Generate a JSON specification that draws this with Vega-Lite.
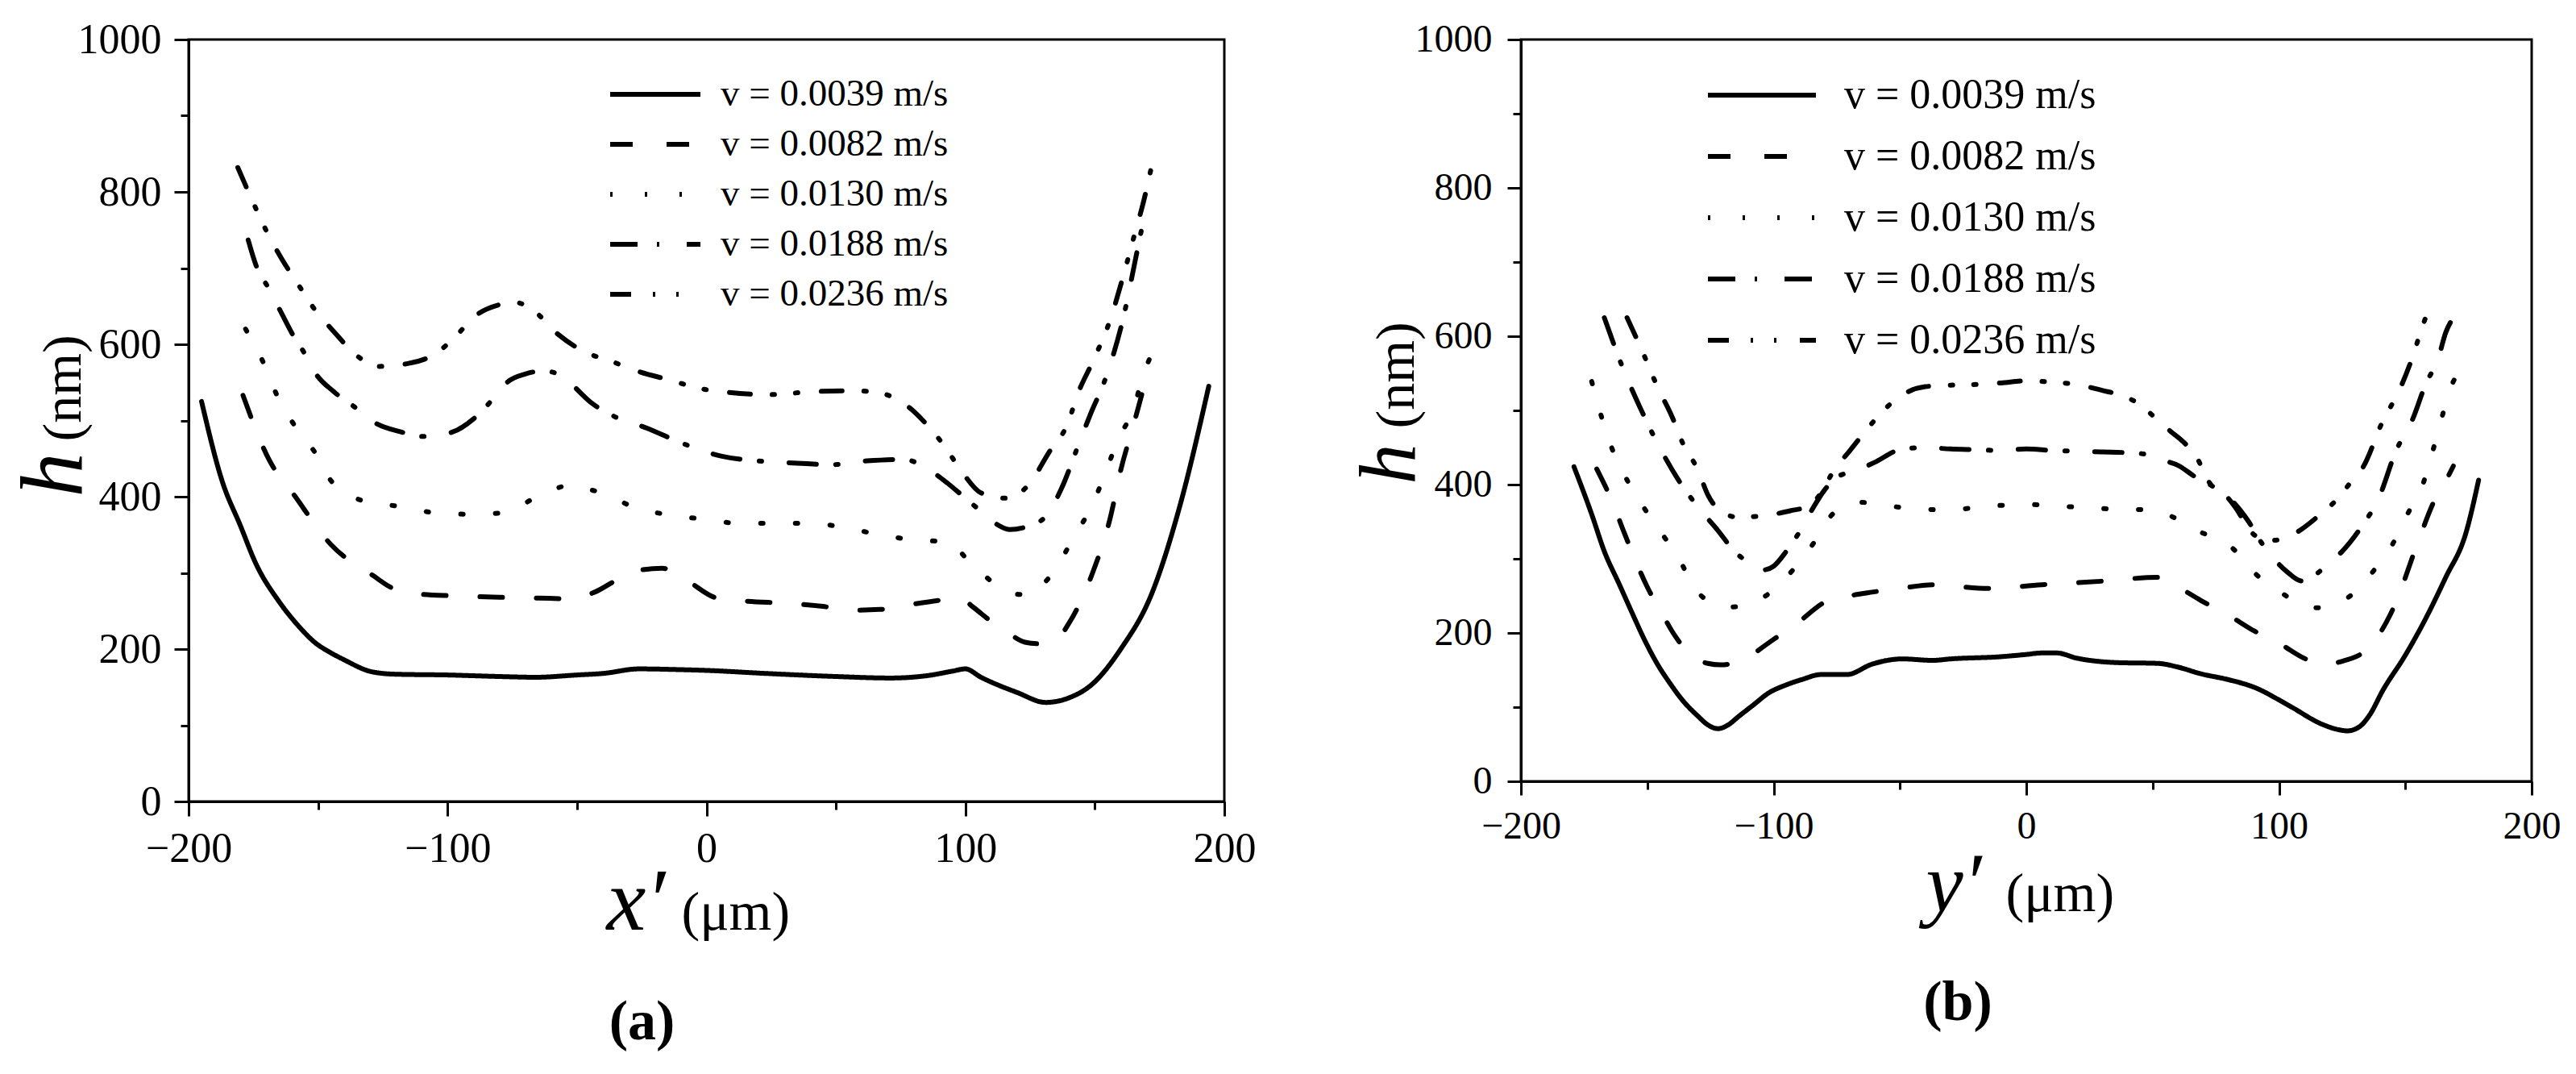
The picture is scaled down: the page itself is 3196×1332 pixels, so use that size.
{
  "$schema": "https://vega.github.io/schema/vega-lite/v6.json",
  "background": "white",
  "padding": {"left": 11, "top": 21, "right": 0, "bottom": 0},
  "spacing": 112,
  "config": {
    "view": {"stroke": "black", "strokeWidth": 3},
    "font": "Liberation Serif",
    "axis": {"labelFont": "Liberation Serif", "titleFont": "Liberation Serif", "labelColor": "black", "titleColor": "black", "domainColor": "black", "tickColor": "black", "domainWidth": 3, "tickWidth": 3, "grid": false, "labelFlush": false, "labelOverlap": false, "titleFontWeight": "normal"},
    "legend": {"labelFont": "Liberation Serif", "labelColor": "black", "labelLimit": 2000}
  },
  "datasets": {
    "d": [
      {"p":"a","s":"0.0039","x":-195,"h":525},{"p":"a","s":"0.0039","x":-187,"h":420},{"p":"a","s":"0.0039","x":-180,"h":362},{"p":"a","s":"0.0039","x":-174,"h":312},{"p":"a","s":"0.0039","x":-165,"h":262},{"p":"a","s":"0.0039","x":-158,"h":232},{"p":"a","s":"0.0039","x":-151,"h":208},{"p":"a","s":"0.0039","x":-145,"h":195},{"p":"a","s":"0.0039","x":-140,"h":186},{"p":"a","s":"0.0039","x":-129,"h":170},{"p":"a","s":"0.0039","x":-120,"h":167},{"p":"a","s":"0.0039","x":-100,"h":166},{"p":"a","s":"0.0039","x":-80,"h":164},{"p":"a","s":"0.0039","x":-66,"h":163},{"p":"a","s":"0.0039","x":-50,"h":166},{"p":"a","s":"0.0039","x":-40,"h":168},{"p":"a","s":"0.0039","x":-26,"h":174},{"p":"a","s":"0.0039","x":-10,"h":173},{"p":"a","s":"0.0039","x":0,"h":172},{"p":"a","s":"0.0039","x":23,"h":168},{"p":"a","s":"0.0039","x":50,"h":164},{"p":"a","s":"0.0039","x":71,"h":162},{"p":"a","s":"0.0039","x":85,"h":165},{"p":"a","s":"0.0039","x":95,"h":171},{"p":"a","s":"0.0039","x":100,"h":174},{"p":"a","s":"0.0039","x":106,"h":163},{"p":"a","s":"0.0039","x":120,"h":143},{"p":"a","s":"0.0039","x":131,"h":130},{"p":"a","s":"0.0039","x":140,"h":136},{"p":"a","s":"0.0039","x":149,"h":154},{"p":"a","s":"0.0039","x":160,"h":200},{"p":"a","s":"0.0039","x":172,"h":273},{"p":"a","s":"0.0039","x":183,"h":390},{"p":"a","s":"0.0039","x":194,"h":545},

      {"p":"a","s":"0.0082","x":-179,"h":533},{"p":"a","s":"0.0082","x":-169,"h":449},{"p":"a","s":"0.0082","x":-159,"h":401},{"p":"a","s":"0.0082","x":-145,"h":337},{"p":"a","s":"0.0082","x":-129,"h":297},{"p":"a","s":"0.0082","x":-120,"h":278},{"p":"a","s":"0.0082","x":-110,"h":272},{"p":"a","s":"0.0082","x":-98,"h":270},{"p":"a","s":"0.0082","x":-80,"h":268},{"p":"a","s":"0.0082","x":-65,"h":267},{"p":"a","s":"0.0082","x":-53,"h":266},{"p":"a","s":"0.0082","x":-43,"h":275},{"p":"a","s":"0.0082","x":-35,"h":290},{"p":"a","s":"0.0082","x":-25,"h":304},{"p":"a","s":"0.0082","x":-17,"h":306},{"p":"a","s":"0.0082","x":-8,"h":291},{"p":"a","s":"0.0082","x":4,"h":267},{"p":"a","s":"0.0082","x":15,"h":263},{"p":"a","s":"0.0082","x":31,"h":260},{"p":"a","s":"0.0082","x":45,"h":256},{"p":"a","s":"0.0082","x":56,"h":251},{"p":"a","s":"0.0082","x":67,"h":252},{"p":"a","s":"0.0082","x":78,"h":258},{"p":"a","s":"0.0082","x":90,"h":264},{"p":"a","s":"0.0082","x":98,"h":267},{"p":"a","s":"0.0082","x":103,"h":255},{"p":"a","s":"0.0082","x":110,"h":236},{"p":"a","s":"0.0082","x":117,"h":220},{"p":"a","s":"0.0082","x":123,"h":209},{"p":"a","s":"0.0082","x":128,"h":207},{"p":"a","s":"0.0082","x":135,"h":212},{"p":"a","s":"0.0082","x":140,"h":234},{"p":"a","s":"0.0082","x":149,"h":299},{"p":"a","s":"0.0082","x":156,"h":373},{"p":"a","s":"0.0082","x":160,"h":435},{"p":"a","s":"0.0082","x":165,"h":495},{"p":"a","s":"0.0082","x":169,"h":545},

      {"p":"a","s":"0.0130","x":-178,"h":620},{"p":"a","s":"0.0130","x":-171,"h":575},{"p":"a","s":"0.0130","x":-166,"h":534},{"p":"a","s":"0.0130","x":-159,"h":493},{"p":"a","s":"0.0130","x":-151,"h":457},{"p":"a","s":"0.0130","x":-145,"h":421},{"p":"a","s":"0.0130","x":-132,"h":394},{"p":"a","s":"0.0130","x":-118,"h":387},{"p":"a","s":"0.0130","x":-105,"h":379},{"p":"a","s":"0.0130","x":-91,"h":377},{"p":"a","s":"0.0130","x":-78,"h":379},{"p":"a","s":"0.0130","x":-66,"h":399},{"p":"a","s":"0.0130","x":-57,"h":412},{"p":"a","s":"0.0130","x":-52,"h":416},{"p":"a","s":"0.0130","x":-46,"h":410},{"p":"a","s":"0.0130","x":-40,"h":405},{"p":"a","s":"0.0130","x":-28,"h":386},{"p":"a","s":"0.0130","x":-14,"h":376},{"p":"a","s":"0.0130","x":0,"h":370},{"p":"a","s":"0.0130","x":13,"h":365},{"p":"a","s":"0.0130","x":27,"h":365},{"p":"a","s":"0.0130","x":40,"h":365},{"p":"a","s":"0.0130","x":54,"h":359},{"p":"a","s":"0.0130","x":67,"h":350},{"p":"a","s":"0.0130","x":81,"h":343},{"p":"a","s":"0.0130","x":93,"h":341},{"p":"a","s":"0.0130","x":102,"h":313},{"p":"a","s":"0.0130","x":113,"h":282},{"p":"a","s":"0.0130","x":120,"h":272},{"p":"a","s":"0.0130","x":125,"h":271},{"p":"a","s":"0.0130","x":130,"h":285},{"p":"a","s":"0.0130","x":135,"h":306},{"p":"a","s":"0.0130","x":142,"h":348},{"p":"a","s":"0.0130","x":149,"h":389},{"p":"a","s":"0.0130","x":154,"h":431},{"p":"a","s":"0.0130","x":159,"h":475},{"p":"a","s":"0.0130","x":165,"h":516},{"p":"a","s":"0.0130","x":169,"h":563},{"p":"a","s":"0.0130","x":171,"h":580},

      {"p":"a","s":"0.0188","x":-177,"h":737},{"p":"a","s":"0.0188","x":-174,"h":704},{"p":"a","s":"0.0188","x":-169,"h":673},{"p":"a","s":"0.0188","x":-164,"h":640},{"p":"a","s":"0.0188","x":-159,"h":608},{"p":"a","s":"0.0188","x":-155,"h":587},{"p":"a","s":"0.0188","x":-151,"h":562},{"p":"a","s":"0.0188","x":-144,"h":538},{"p":"a","s":"0.0188","x":-136,"h":518},{"p":"a","s":"0.0188","x":-128,"h":497},{"p":"a","s":"0.0188","x":-118,"h":485},{"p":"a","s":"0.0188","x":-109,"h":479},{"p":"a","s":"0.0188","x":-98,"h":485},{"p":"a","s":"0.0188","x":-90,"h":502},{"p":"a","s":"0.0188","x":-82,"h":530},{"p":"a","s":"0.0188","x":-77,"h":550},{"p":"a","s":"0.0188","x":-70,"h":561},{"p":"a","s":"0.0188","x":-63,"h":565},{"p":"a","s":"0.0188","x":-58,"h":562},{"p":"a","s":"0.0188","x":-53,"h":550},{"p":"a","s":"0.0188","x":-44,"h":522},{"p":"a","s":"0.0188","x":-36,"h":506},{"p":"a","s":"0.0188","x":-23,"h":490},{"p":"a","s":"0.0188","x":-10,"h":471},{"p":"a","s":"0.0188","x":6,"h":453},{"p":"a","s":"0.0188","x":20,"h":447},{"p":"a","s":"0.0188","x":35,"h":444},{"p":"a","s":"0.0188","x":48,"h":442},{"p":"a","s":"0.0188","x":62,"h":447},{"p":"a","s":"0.0188","x":76,"h":449},{"p":"a","s":"0.0188","x":87,"h":433},{"p":"a","s":"0.0188","x":93,"h":418},{"p":"a","s":"0.0188","x":100,"h":398},{"p":"a","s":"0.0188","x":107,"h":378},{"p":"a","s":"0.0188","x":112,"h":364},{"p":"a","s":"0.0188","x":117,"h":357},{"p":"a","s":"0.0188","x":124,"h":361},{"p":"a","s":"0.0188","x":131,"h":374},{"p":"a","s":"0.0188","x":137,"h":410},{"p":"a","s":"0.0188","x":144,"h":471},{"p":"a","s":"0.0188","x":149,"h":514},{"p":"a","s":"0.0188","x":153,"h":545},{"p":"a","s":"0.0188","x":157,"h":585},{"p":"a","s":"0.0188","x":161,"h":635},{"p":"a","s":"0.0188","x":165,"h":700},{"p":"a","s":"0.0188","x":168,"h":750},{"p":"a","s":"0.0188","x":170,"h":780},

      {"p":"a","s":"0.0236","x":-181,"h":832},{"p":"a","s":"0.0236","x":-174,"h":778},{"p":"a","s":"0.0236","x":-170,"h":749},{"p":"a","s":"0.0236","x":-164,"h":712},{"p":"a","s":"0.0236","x":-157,"h":675},{"p":"a","s":"0.0236","x":-152,"h":649},{"p":"a","s":"0.0236","x":-144,"h":617},{"p":"a","s":"0.0236","x":-135,"h":585},{"p":"a","s":"0.0236","x":-127,"h":571},{"p":"a","s":"0.0236","x":-115,"h":575},{"p":"a","s":"0.0236","x":-104,"h":589},{"p":"a","s":"0.0236","x":-97,"h":610},{"p":"a","s":"0.0236","x":-89,"h":638},{"p":"a","s":"0.0236","x":-80,"h":652},{"p":"a","s":"0.0236","x":-74,"h":655},{"p":"a","s":"0.0236","x":-67,"h":645},{"p":"a","s":"0.0236","x":-58,"h":615},{"p":"a","s":"0.0236","x":-47,"h":590},{"p":"a","s":"0.0236","x":-37,"h":578},{"p":"a","s":"0.0236","x":-26,"h":564},{"p":"a","s":"0.0236","x":-13,"h":552},{"p":"a","s":"0.0236","x":-4,"h":543},{"p":"a","s":"0.0236","x":8,"h":537},{"p":"a","s":"0.0236","x":24,"h":534},{"p":"a","s":"0.0236","x":42,"h":538},{"p":"a","s":"0.0236","x":57,"h":539},{"p":"a","s":"0.0236","x":67,"h":536},{"p":"a","s":"0.0236","x":76,"h":523},{"p":"a","s":"0.0236","x":85,"h":495},{"p":"a","s":"0.0236","x":92,"h":466},{"p":"a","s":"0.0236","x":99,"h":431},{"p":"a","s":"0.0236","x":106,"h":405},{"p":"a","s":"0.0236","x":116,"h":398},{"p":"a","s":"0.0236","x":124,"h":414},{"p":"a","s":"0.0236","x":133,"h":462},{"p":"a","s":"0.0236","x":139,"h":492},{"p":"a","s":"0.0236","x":144,"h":540},{"p":"a","s":"0.0236","x":149,"h":576},{"p":"a","s":"0.0236","x":156,"h":633},{"p":"a","s":"0.0236","x":161,"h":690},{"p":"a","s":"0.0236","x":165,"h":740},{"p":"a","s":"0.0236","x":169,"h":790},{"p":"a","s":"0.0236","x":172,"h":835},

      {"p":"b","s":"0.0039","x":-179,"h":424},{"p":"b","s":"0.0039","x":-172,"h":360},{"p":"b","s":"0.0039","x":-167,"h":310},{"p":"b","s":"0.0039","x":-161,"h":265},{"p":"b","s":"0.0039","x":-156,"h":227},{"p":"b","s":"0.0039","x":-151,"h":190},{"p":"b","s":"0.0039","x":-146,"h":158},{"p":"b","s":"0.0039","x":-141,"h":132},{"p":"b","s":"0.0039","x":-136,"h":109},{"p":"b","s":"0.0039","x":-130,"h":88},{"p":"b","s":"0.0039","x":-126,"h":76},{"p":"b","s":"0.0039","x":-122,"h":71},{"p":"b","s":"0.0039","x":-118,"h":76},{"p":"b","s":"0.0039","x":-114,"h":87},{"p":"b","s":"0.0039","x":-108,"h":103},{"p":"b","s":"0.0039","x":-102,"h":119},{"p":"b","s":"0.0039","x":-95,"h":130},{"p":"b","s":"0.0039","x":-89,"h":137},{"p":"b","s":"0.0039","x":-81,"h":144},{"p":"b","s":"0.0039","x":-71,"h":144},{"p":"b","s":"0.0039","x":-61,"h":158},{"p":"b","s":"0.0039","x":-49,"h":165},{"p":"b","s":"0.0039","x":-37,"h":163},{"p":"b","s":"0.0039","x":-30,"h":165},{"p":"b","s":"0.0039","x":-10,"h":168},{"p":"b","s":"0.0039","x":0,"h":171},{"p":"b","s":"0.0039","x":6,"h":173},{"p":"b","s":"0.0039","x":12,"h":173},{"p":"b","s":"0.0039","x":20,"h":166},{"p":"b","s":"0.0039","x":36,"h":160},{"p":"b","s":"0.0039","x":52,"h":159},{"p":"b","s":"0.0039","x":60,"h":154},{"p":"b","s":"0.0039","x":69,"h":145},{"p":"b","s":"0.0039","x":80,"h":137},{"p":"b","s":"0.0039","x":90,"h":127},{"p":"b","s":"0.0039","x":104,"h":102},{"p":"b","s":"0.0039","x":117,"h":77},{"p":"b","s":"0.0039","x":123,"h":70},{"p":"b","s":"0.0039","x":127,"h":68},{"p":"b","s":"0.0039","x":132,"h":74},{"p":"b","s":"0.0039","x":136,"h":90},{"p":"b","s":"0.0039","x":141,"h":122},{"p":"b","s":"0.0039","x":150,"h":170},{"p":"b","s":"0.0039","x":158,"h":219},{"p":"b","s":"0.0039","x":166,"h":275},{"p":"b","s":"0.0039","x":174,"h":335},{"p":"b","s":"0.0039","x":179,"h":406},

      {"p":"b","s":"0.0082","x":-170,"h":421},{"p":"b","s":"0.0082","x":-164,"h":378},{"p":"b","s":"0.0082","x":-159,"h":334},{"p":"b","s":"0.0082","x":-150,"h":262},{"p":"b","s":"0.0082","x":-144,"h":225},{"p":"b","s":"0.0082","x":-139,"h":196},{"p":"b","s":"0.0082","x":-132,"h":168},{"p":"b","s":"0.0082","x":-126,"h":159},{"p":"b","s":"0.0082","x":-121,"h":157},{"p":"b","s":"0.0082","x":-112,"h":164},{"p":"b","s":"0.0082","x":-101,"h":189},{"p":"b","s":"0.0082","x":-90,"h":215},{"p":"b","s":"0.0082","x":-80,"h":241},{"p":"b","s":"0.0082","x":-70,"h":250},{"p":"b","s":"0.0082","x":-61,"h":255},{"p":"b","s":"0.0082","x":-50,"h":260},{"p":"b","s":"0.0082","x":-37,"h":265},{"p":"b","s":"0.0082","x":-15,"h":260},{"p":"b","s":"0.0082","x":6,"h":265},{"p":"b","s":"0.0082","x":31,"h":270},{"p":"b","s":"0.0082","x":52,"h":275},{"p":"b","s":"0.0082","x":60,"h":262},{"p":"b","s":"0.0082","x":69,"h":244},{"p":"b","s":"0.0082","x":80,"h":224},{"p":"b","s":"0.0082","x":90,"h":203},{"p":"b","s":"0.0082","x":100,"h":186},{"p":"b","s":"0.0082","x":112,"h":163},{"p":"b","s":"0.0082","x":119,"h":158},{"p":"b","s":"0.0082","x":126,"h":163},{"p":"b","s":"0.0082","x":133,"h":173},{"p":"b","s":"0.0082","x":140,"h":200},{"p":"b","s":"0.0082","x":146,"h":239},{"p":"b","s":"0.0082","x":154,"h":313},{"p":"b","s":"0.0082","x":162,"h":382},{"p":"b","s":"0.0082","x":166,"h":405},{"p":"b","s":"0.0082","x":169,"h":425},

      {"p":"b","s":"0.0130","x":-172,"h":539},{"p":"b","s":"0.0130","x":-168,"h":490},{"p":"b","s":"0.0130","x":-164,"h":449},{"p":"b","s":"0.0130","x":-157,"h":400},{"p":"b","s":"0.0130","x":-148,"h":352},{"p":"b","s":"0.0130","x":-138,"h":303},{"p":"b","s":"0.0130","x":-130,"h":255},{"p":"b","s":"0.0130","x":-124,"h":240},{"p":"b","s":"0.0130","x":-117,"h":235},{"p":"b","s":"0.0130","x":-110,"h":238},{"p":"b","s":"0.0130","x":-104,"h":248},{"p":"b","s":"0.0130","x":-95,"h":275},{"p":"b","s":"0.0130","x":-85,"h":317},{"p":"b","s":"0.0130","x":-77,"h":359},{"p":"b","s":"0.0130","x":-70,"h":372},{"p":"b","s":"0.0130","x":-65,"h":376},{"p":"b","s":"0.0130","x":-49,"h":369},{"p":"b","s":"0.0130","x":-32,"h":366},{"p":"b","s":"0.0130","x":-10,"h":372},{"p":"b","s":"0.0130","x":3,"h":373},{"p":"b","s":"0.0130","x":18,"h":370},{"p":"b","s":"0.0130","x":35,"h":367},{"p":"b","s":"0.0130","x":49,"h":366},{"p":"b","s":"0.0130","x":57,"h":358},{"p":"b","s":"0.0130","x":65,"h":342},{"p":"b","s":"0.0130","x":69,"h":336},{"p":"b","s":"0.0130","x":82,"h":313},{"p":"b","s":"0.0130","x":90,"h":282},{"p":"b","s":"0.0130","x":101,"h":254},{"p":"b","s":"0.0130","x":108,"h":240},{"p":"b","s":"0.0130","x":115,"h":234},{"p":"b","s":"0.0130","x":121,"h":238},{"p":"b","s":"0.0130","x":127,"h":247},{"p":"b","s":"0.0130","x":137,"h":282},{"p":"b","s":"0.0130","x":145,"h":320},{"p":"b","s":"0.0130","x":151,"h":361},{"p":"b","s":"0.0130","x":157,"h":401},{"p":"b","s":"0.0130","x":161,"h":447},{"p":"b","s":"0.0130","x":165,"h":497},{"p":"b","s":"0.0130","x":169,"h":539},{"p":"b","s":"0.0130","x":171,"h":550},

      {"p":"b","s":"0.0188","x":-167,"h":625},{"p":"b","s":"0.0188","x":-160,"h":560},{"p":"b","s":"0.0188","x":-153,"h":505},{"p":"b","s":"0.0188","x":-146,"h":456},{"p":"b","s":"0.0188","x":-138,"h":408},{"p":"b","s":"0.0188","x":-130,"h":370},{"p":"b","s":"0.0188","x":-122,"h":338},{"p":"b","s":"0.0188","x":-116,"h":312},{"p":"b","s":"0.0188","x":-110,"h":295},{"p":"b","s":"0.0188","x":-104,"h":285},{"p":"b","s":"0.0188","x":-100,"h":290},{"p":"b","s":"0.0188","x":-95,"h":310},{"p":"b","s":"0.0188","x":-90,"h":335},{"p":"b","s":"0.0188","x":-85,"h":365},{"p":"b","s":"0.0188","x":-80,"h":392},{"p":"b","s":"0.0188","x":-75,"h":410},{"p":"b","s":"0.0188","x":-68,"h":418},{"p":"b","s":"0.0188","x":-60,"h":430},{"p":"b","s":"0.0188","x":-50,"h":447},{"p":"b","s":"0.0188","x":-40,"h":450},{"p":"b","s":"0.0188","x":-30,"h":448},{"p":"b","s":"0.0188","x":-20,"h":447},{"p":"b","s":"0.0188","x":-10,"h":446},{"p":"b","s":"0.0188","x":0,"h":448},{"p":"b","s":"0.0188","x":10,"h":446},{"p":"b","s":"0.0188","x":20,"h":445},{"p":"b","s":"0.0188","x":30,"h":444},{"p":"b","s":"0.0188","x":40,"h":443},{"p":"b","s":"0.0188","x":47,"h":441},{"p":"b","s":"0.0188","x":55,"h":432},{"p":"b","s":"0.0188","x":60,"h":426},{"p":"b","s":"0.0188","x":67,"h":410},{"p":"b","s":"0.0188","x":75,"h":395},{"p":"b","s":"0.0188","x":82,"h":376},{"p":"b","s":"0.0188","x":88,"h":350},{"p":"b","s":"0.0188","x":93,"h":322},{"p":"b","s":"0.0188","x":98,"h":300},{"p":"b","s":"0.0188","x":103,"h":283},{"p":"b","s":"0.0188","x":109,"h":270},{"p":"b","s":"0.0188","x":115,"h":280},{"p":"b","s":"0.0188","x":120,"h":295},{"p":"b","s":"0.0188","x":125,"h":310},{"p":"b","s":"0.0188","x":132,"h":340},{"p":"b","s":"0.0188","x":140,"h":386},{"p":"b","s":"0.0188","x":146,"h":443},{"p":"b","s":"0.0188","x":153,"h":489},{"p":"b","s":"0.0188","x":158,"h":535},{"p":"b","s":"0.0188","x":163,"h":570},{"p":"b","s":"0.0188","x":166,"h":605},{"p":"b","s":"0.0188","x":169,"h":625},

      {"p":"b","s":"0.0236","x":-158,"h":625},{"p":"b","s":"0.0236","x":-152,"h":580},{"p":"b","s":"0.0236","x":-146,"h":532},{"p":"b","s":"0.0236","x":-140,"h":490},{"p":"b","s":"0.0236","x":-136,"h":456},{"p":"b","s":"0.0236","x":-130,"h":420},{"p":"b","s":"0.0236","x":-126,"h":386},{"p":"b","s":"0.0236","x":-120,"h":362},{"p":"b","s":"0.0236","x":-114,"h":356},{"p":"b","s":"0.0236","x":-107,"h":357},{"p":"b","s":"0.0236","x":-100,"h":360},{"p":"b","s":"0.0236","x":-93,"h":365},{"p":"b","s":"0.0236","x":-87,"h":370},{"p":"b","s":"0.0236","x":-82,"h":385},{"p":"b","s":"0.0236","x":-76,"h":420},{"p":"b","s":"0.0236","x":-70,"h":445},{"p":"b","s":"0.0236","x":-61,"h":483},{"p":"b","s":"0.0236","x":-55,"h":505},{"p":"b","s":"0.0236","x":-49,"h":521},{"p":"b","s":"0.0236","x":-40,"h":532},{"p":"b","s":"0.0236","x":-30,"h":534},{"p":"b","s":"0.0236","x":-20,"h":535},{"p":"b","s":"0.0236","x":-10,"h":537},{"p":"b","s":"0.0236","x":0,"h":540},{"p":"b","s":"0.0236","x":10,"h":538},{"p":"b","s":"0.0236","x":20,"h":535},{"p":"b","s":"0.0236","x":30,"h":527},{"p":"b","s":"0.0236","x":37,"h":521},{"p":"b","s":"0.0236","x":44,"h":510},{"p":"b","s":"0.0236","x":52,"h":487},{"p":"b","s":"0.0236","x":57,"h":472},{"p":"b","s":"0.0236","x":62,"h":458},{"p":"b","s":"0.0236","x":67,"h":439},{"p":"b","s":"0.0236","x":73,"h":400},{"p":"b","s":"0.0236","x":79,"h":385},{"p":"b","s":"0.0236","x":83,"h":368},{"p":"b","s":"0.0236","x":89,"h":336},{"p":"b","s":"0.0236","x":94,"h":326},{"p":"b","s":"0.0236","x":98,"h":325},{"p":"b","s":"0.0236","x":104,"h":330},{"p":"b","s":"0.0236","x":109,"h":340},{"p":"b","s":"0.0236","x":115,"h":356},{"p":"b","s":"0.0236","x":124,"h":384},{"p":"b","s":"0.0236","x":129,"h":406},{"p":"b","s":"0.0236","x":133,"h":422},{"p":"b","s":"0.0236","x":141,"h":485},{"p":"b","s":"0.0236","x":148,"h":530},{"p":"b","s":"0.0236","x":152,"h":564},{"p":"b","s":"0.0236","x":156,"h":605},{"p":"b","s":"0.0236","x":158,"h":625}
    ]
  },
  "resolve": {"scale": {"strokeDash": "independent"}, "legend": {"strokeDash": "independent"}},
  "hconcat": [
    {
      "width": 1285,
      "height": 945,
      "data": {"name": "d"},
      "transform": [{"filter": "datum.p == 'a'"}],
      "title": {"text": "(a)", "orient": "bottom", "anchor": "middle", "dx": -80, "offset": 60, "fontSize": 70, "fontWeight": "bold", "font": "Liberation Serif", "color": "black"},
      "resolve": {"scale": {"x": "independent", "y": "independent"}, "axis": {"x": "independent", "y": "independent"}},
      "layer": [
        {
          "mark": {"type": "line", "color": "black", "strokeWidth": 6, "strokeCap": "round", "interpolate": "monotone"},
          "encoding": {
            "x": {"field": "x", "type": "quantitative", "scale": {"domain": [-200, 200], "nice": false, "zero": false},
                  "axis": {"orient": "bottom", "values": [-200, -100, 0, 100, 200], "format": "d", "tickSize": 18, "labelPadding": 15, "labelFont": "Liberation Serif", "labelFontSize": 52, "title": "x′", "titleFont": "Liberation Serif", "titleFontSize": 110, "titleFontStyle": "italic", "titleX": 518, "titleY": 158, "titleAlign": "left", "titleBaseline": "alphabetic"}},
            "y": {"field": "h", "type": "quantitative", "scale": {"domain": [0, 1000], "nice": false, "zero": false},
                  "axis": {"orient": "left", "values": [0, 200, 400, 600, 800, 1000], "format": "d", "tickSize": 18, "labelPadding": 16, "labelFont": "Liberation Serif", "labelFontSize": 52, "title": "h", "titleFont": "Liberation Serif", "titleFontSize": 110, "titleFontStyle": "italic", "titleX": -133, "titleY": 567, "titleAngle": 270, "titleAlign": "left", "titleBaseline": "alphabetic"}},
            "strokeDash": {"field": "s", "type": "nominal",
                  "scale": {"domain": ["0.0039", "0.0082", "0.0130", "0.0188", "0.0236"], "range": [[1, 0], [28, 42], [3, 40], [34, 24, 3, 34], [26, 27, 3, 26, 3, 29]]},
                  "legend": {"orient": "none", "legendX": 520, "legendY": 37, "title": null, "symbolType": "stroke", "symbolSize": 12544, "symbolStrokeWidth": 6, "symbolStrokeColor": "black", "labelFont": "Liberation Serif", "labelFontSize": 47, "labelOffset": 22, "labelLimit": 2000, "clipHeight": 62, "rowPadding": 0, "padding": 0, "labelExpr": "'v = ' + datum.label + ' m/s'"}}
          }
        },
        {
          "mark": {"type": "line", "opacity": 0},
          "encoding": {
            "x": {"field": "x", "type": "quantitative", "scale": {"domain": [-200, 200], "nice": false, "zero": false},
                  "axis": {"orient": "bottom", "values": [-150, -50, 50, 150], "tickSize": 10, "labels": false, "domain": false, "title": "(μm)", "titleFont": "Liberation Serif", "titleFontSize": 68, "titleFontStyle": "normal", "titleX": 611, "titleY": 158, "titleAlign": "left", "titleBaseline": "alphabetic"}},
            "y": {"field": "h", "type": "quantitative", "scale": {"domain": [0, 1000], "nice": false, "zero": false},
                  "axis": {"orient": "left", "values": [100, 300, 500, 700, 900], "tickSize": 10, "labels": false, "domain": false, "title": "(nm)", "titleFont": "Liberation Serif", "titleFontSize": 68, "titleFontStyle": "normal", "titleX": -135, "titleY": 498, "titleAngle": 270, "titleAlign": "left", "titleBaseline": "alphabetic"}},
            "detail": {"field": "s"}
          }
        }
      ]
    },
    {
      "width": 1254,
      "height": 920,
      "data": {"name": "d"},
      "transform": [{"filter": "datum.p == 'b'"}],
      "title": {"text": "(b)", "orient": "bottom", "anchor": "middle", "dx": -85, "offset": 60, "fontSize": 70, "fontWeight": "bold", "font": "Liberation Serif", "color": "black"},
      "resolve": {"scale": {"x": "independent", "y": "independent"}, "axis": {"x": "independent", "y": "independent"}},
      "layer": [
        {
          "mark": {"type": "line", "color": "black", "strokeWidth": 6, "strokeCap": "round", "interpolate": "monotone"},
          "encoding": {
            "x": {"field": "x", "type": "quantitative", "scale": {"domain": [-200, 200], "nice": false, "zero": false},
                  "axis": {"orient": "bottom", "values": [-200, -100, 0, 100, 200], "format": "d", "tickSize": 17, "labelPadding": 15, "labelFont": "Liberation Serif", "labelFontSize": 48, "title": "y′", "titleFont": "Liberation Serif", "titleFontSize": 104, "titleFontStyle": "italic", "titleX": 502, "titleY": 160, "titleAlign": "left", "titleBaseline": "alphabetic"}},
            "y": {"field": "h", "type": "quantitative", "scale": {"domain": [0, 1000], "nice": false, "zero": false},
                  "axis": {"orient": "left", "values": [0, 200, 400, 600, 800, 1000], "format": "d", "tickSize": 17, "labelPadding": 19, "labelFont": "Liberation Serif", "labelFontSize": 48, "title": "h", "titleFont": "Liberation Serif", "titleFontSize": 100, "titleFontStyle": "italic", "titleX": -133, "titleY": 551, "titleAngle": 270, "titleAlign": "left", "titleBaseline": "alphabetic"}},
            "strokeDash": {"field": "s", "type": "nominal",
                  "scale": {"domain": ["0.0039", "0.0082", "0.0130", "0.0188", "0.0236"], "range": [[1, 0], [28, 42], [3, 40], [34, 24, 3, 34], [26, 27, 3, 26, 3, 29]]},
                  "legend": {"orient": "none", "legendX": 229, "legendY": 31, "title": null, "symbolType": "stroke", "symbolSize": 17956, "symbolStrokeWidth": 6, "symbolStrokeColor": "black", "labelFont": "Liberation Serif", "labelFontSize": 52, "labelOffset": 32, "labelLimit": 2000, "clipHeight": 76, "rowPadding": 0, "padding": 0, "labelExpr": "'v = ' + datum.label + ' m/s'"}}
          }
        },
        {
          "mark": {"type": "line", "opacity": 0},
          "encoding": {
            "x": {"field": "x", "type": "quantitative", "scale": {"domain": [-200, 200], "nice": false, "zero": false},
                  "axis": {"orient": "bottom", "values": [-150, -50, 50, 150], "tickSize": 10, "labels": false, "domain": false, "title": "(μm)", "titleFont": "Liberation Serif", "titleFontSize": 68, "titleFontStyle": "normal", "titleX": 601, "titleY": 160, "titleAlign": "left", "titleBaseline": "alphabetic"}},
            "y": {"field": "h", "type": "quantitative", "scale": {"domain": [0, 1000], "nice": false, "zero": false},
                  "axis": {"orient": "left", "values": [100, 300, 500, 700, 900], "tickSize": 10, "labels": false, "domain": false, "title": "(nm)", "titleFont": "Liberation Serif", "titleFontSize": 68, "titleFontStyle": "normal", "titleX": -134, "titleY": 482, "titleAngle": 270, "titleAlign": "left", "titleBaseline": "alphabetic"}},
            "detail": {"field": "s"}
          }
        }
      ]
    }
  ]
}
